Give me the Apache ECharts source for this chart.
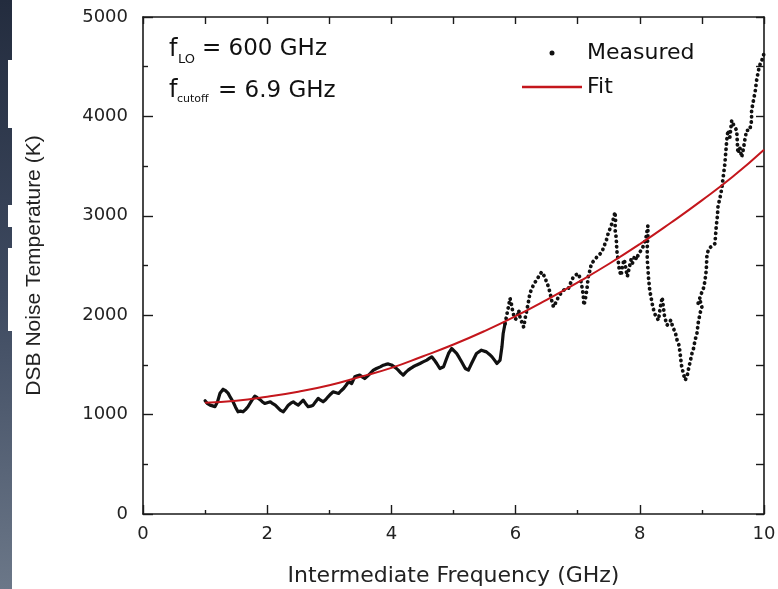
<!DOCTYPE html>
<html>
<head>
<meta charset="utf-8">
<script src="https://cdn.jsdelivr.net/npm/echarts@6/dist/echarts.min.js"></script>
<style>
html,body{margin:0;padding:0;background:#fff;}
#chart{width:778px;height:589px;}
</style>
</head>
<body>
<div id="chart"></div>
<script>
// ---- Data ----
const xTicks = [0, 2, 4, 6, 8, 10];
const yTicks = [0, 1000, 2000, 3000, 4000, 5000];

// Measured, dense low-frequency part (GHz, K)
const measDenseFreq = [1.00,1.04,1.08,1.16,1.20,1.24,1.29,1.33,1.37,1.41,1.45,1.49,1.53,1.57,1.61,1.65,1.69,1.75,1.80,1.84,1.88,1.92,1.96,2.00,2.05,2.09,2.13,2.17,2.21,2.26,2.30,2.34,2.38,2.42,2.46,2.50,2.54,2.58,2.62,2.66,2.70,2.74,2.78,2.82,2.86,2.90,2.94,2.98,3.02,3.06,3.10,3.15,3.19,3.23,3.27,3.31,3.36,3.41,3.45,3.49,3.53,3.57,3.62,3.66,3.71,3.76,3.82,3.87,3.91,3.95,4.00,4.03,4.07,4.11,4.15,4.19,4.23,4.27,4.31,4.35,4.40,4.46,4.51,4.57,4.61,4.65,4.69,4.73,4.78,4.84,4.88,4.92,4.97,5.01,5.05,5.09,5.13,5.19,5.24,5.29,5.33,5.37,5.45,5.53,5.58,5.62,5.66,5.70,5.75,5.78,5.80,5.83];
const measDenseTemp = [1140,1110,1095,1080,1130,1214,1255,1240,1216,1170,1129,1075,1028,1035,1028,1050,1079,1140,1186,1170,1153,1130,1112,1120,1129,1110,1095,1070,1045,1028,1060,1095,1115,1129,1110,1095,1120,1146,1110,1079,1085,1095,1130,1163,1145,1129,1150,1179,1205,1229,1222,1213,1240,1263,1295,1330,1313,1380,1390,1397,1380,1363,1390,1414,1447,1464,1480,1497,1505,1510,1500,1490,1470,1447,1420,1397,1425,1447,1465,1481,1497,1514,1530,1548,1565,1581,1550,1514,1464,1481,1550,1615,1665,1640,1615,1575,1531,1464,1447,1514,1565,1615,1648,1631,1605,1581,1548,1514,1548,1682,1816,1916];

// Measured, sparse high-frequency part (GHz, K)
const measSparseFreq = [5.83,5.86,5.89,5.91,5.93,5.95,5.97,6.00,6.03,6.05,6.07,6.10,6.13,6.16,6.20,6.23,6.27,6.31,6.34,6.38,6.42,6.47,6.50,6.53,6.56,6.58,6.61,6.65,6.69,6.73,6.77,6.81,6.85,6.89,6.93,6.97,7.01,7.04,7.06,7.09,7.10,7.12,7.15,7.17,7.20,7.22,7.27,7.31,7.35,7.39,7.44,7.47,7.49,7.52,7.55,7.58,7.60,7.61,7.60,7.62,7.63,7.65,7.67,7.70,7.72,7.75,7.78,7.80,7.83,7.86,7.88,7.92,7.95,7.98,8.02,8.06,8.10,8.13,8.13,8.12,8.12,8.13,8.14,8.16,8.19,8.21,8.25,8.30,8.33,8.36,8.40,8.44,8.47,8.50,8.53,8.57,8.60,8.63,8.65,8.67,8.70,8.73,8.76,8.78,8.81,8.84,8.86,8.89,8.92,8.94,8.97,9.00,8.97,8.94,8.98,9.03,9.05,9.07,9.08,9.08,9.13,9.21,9.23,9.25,9.26,9.29,9.32,9.34,9.37,9.40,9.42,9.45,9.48,9.52,9.56,9.58,9.61,9.64,9.67,9.69,9.72,9.77,9.80,9.80,9.83,9.86,9.88,9.91,9.94,9.99,10.00];
const measSparseTemp = [1916,2010,2100,2170,2120,2050,2000,1960,1990,2050,1983,1930,1880,1990,2110,2220,2280,2330,2352,2400,2435,2385,2330,2285,2210,2150,2083,2130,2184,2220,2251,2260,2268,2330,2385,2405,2419,2370,2318,2200,2100,2150,2270,2385,2460,2519,2555,2586,2610,2636,2720,2770,2821,2870,2921,2980,3038,2960,2870,2780,2650,2560,2450,2400,2500,2560,2450,2390,2480,2560,2520,2600,2560,2620,2650,2700,2780,2900,2800,2680,2560,2480,2380,2250,2150,2080,2000,1950,2080,2180,1980,1900,1880,1950,1880,1830,1750,1700,1615,1500,1415,1347,1380,1447,1530,1615,1650,1750,1816,1920,2020,2080,2150,2120,2200,2280,2350,2450,2580,2620,2680,2720,2885,3000,3100,3175,3275,3290,3525,3760,3860,3790,3960,3900,3860,3630,3690,3590,3680,3760,3860,3860,3960,4060,4160,4260,4360,4460,4530,4600,4650];

// Fit curve (GHz, K)
const fitFreq = [1.0,1.5,2.0,2.5,3.0,3.5,4.0,4.5,5.0,5.5,6.0,6.5,7.0,7.5,8.0,8.5,9.0,9.5,10.0];
const fitTemp = [1120,1140,1180,1230,1295,1380,1470,1585,1705,1840,1990,2155,2330,2515,2715,2930,3155,3395,3665];

const zip = (a, b) => a.map((v, i) => [v, b[i]]);

const FONT = '"DejaVu Sans", "Liberation Sans", Arial, sans-serif';
const AX = '#1a1a1a';
const RED = '#c4161c';

const chart = echarts.init(document.getElementById('chart'), null, {renderer: 'canvas'});

const option = {
  backgroundColor: '#ffffff',
  animation: false,
  grid: {left: 143, right: 14, top: 17, bottom: 75, outerBoundsMode: 'none'},
  legend: {
    orient: 'vertical',
    left: 522,
    top: 40,
    itemWidth: 60,
    itemHeight: 5,
    itemGap: 8,
    padding: 0,
    symbolKeepAspect: true,
    textStyle: {fontFamily: FONT, fontSize: 22, color: '#111', lineHeight: 26},
    data: [
      {name: 'Measured', icon: 'circle'},
      {name: 'Fit', icon: 'path://M0 0H60V2.5H0Z', itemStyle: {color: RED}}
    ]
  },
  xAxis: [
    {
      type: 'value', min: 0, max: 10, interval: 2,
      name: 'Intermediate Frequency (GHz)', nameLocation: 'middle', nameGap: 51,
      nameTextStyle: {fontFamily: FONT, fontSize: 22, color: '#222'},
      axisLine: {show: true, onZero: false, lineStyle: {color: AX, width: 1.6}},
      axisTick: {show: true, inside: true, length: 9, lineStyle: {color: AX, width: 1.4}},
      minorTick: {show: true, splitNumber: 2, length: 4, lineStyle: {color: AX, width: 1.4}},
      axisLabel: {margin: 11, fontFamily: FONT, fontSize: 18, color: '#222',
        formatter: v => (xTicks.indexOf(v) >= 0 ? String(v) : '')},
      splitLine: {show: false}
    },
    {
      type: 'value', min: 0, max: 10, interval: 1, position: 'top',
      axisLine: {show: true, onZero: false, lineStyle: {color: AX, width: 1.6}},
      axisTick: {show: true, inside: true, length: 7, lineStyle: {color: AX, width: 1.4}},
      axisLabel: {show: false},
      splitLine: {show: false}
    }
  ],
  yAxis: [
    {
      type: 'value', min: 0, max: 5000, interval: 1000,
      name: 'DSB Noise Temperature (K)', nameLocation: 'middle', nameGap: 98,
      nameTextStyle: {fontFamily: '"Liberation Sans", Arial, sans-serif', fontSize: 21, color: '#222'},
      axisLine: {show: true, onZero: false, lineStyle: {color: AX, width: 1.6}},
      axisTick: {show: true, inside: true, length: 10, lineStyle: {color: AX, width: 1.4}},
      minorTick: {show: true, splitNumber: 2, length: 5, lineStyle: {color: AX, width: 1.4}},
      axisLabel: {margin: 15, fontFamily: FONT, fontSize: 18, color: '#222',
        formatter: v => (yTicks.indexOf(v) >= 0 ? String(v) : '')},
      splitLine: {show: false}
    },
    {
      type: 'value', min: 0, max: 5000, interval: 500, position: 'right',
      axisLine: {show: true, onZero: false, lineStyle: {color: AX, width: 1.6}},
      axisTick: {show: true, inside: true, length: 8, lineStyle: {color: AX, width: 1.4}},
      axisLabel: {show: false},
      splitLine: {show: false}
    }
  ],
  series: [
    {
      name: 'Measured', type: 'line', xAxisIndex: 0, yAxisIndex: 0,
      data: zip(measDenseFreq, measDenseTemp),
      showSymbol: false, symbol: 'circle', symbolSize: 5,
      itemStyle: {color: '#111'},
      lineStyle: {color: '#111', width: 3.2, join: 'round', cap: 'round'},
      z: 3
    },
    {
      name: 'Measured', type: 'line', xAxisIndex: 0, yAxisIndex: 0,
      data: zip(measSparseFreq, measSparseTemp),
      showSymbol: false, symbol: 'none',
      itemStyle: {color: '#111'},
      lineStyle: {color: '#111', width: 3.8, type: [0.1, 5.2], cap: 'round', join: 'round'},
      z: 3
    },
    {
      name: 'Fit', type: 'line', xAxisIndex: 0, yAxisIndex: 0,
      data: zip(fitFreq, fitTemp),
      smooth: true, showSymbol: false, symbol: 'none',
      itemStyle: {color: RED},
      lineStyle: {color: RED, width: 2},
      z: 4
    }
  ],
  graphic: [
    // dark strip at the left edge of the scan
    {type: 'rect', left: 0, top: 0, z: -10, silent: true,
      shape: {width: 12, height: 589},
      style: {fill: new echarts.graphic.LinearGradient(0, 0, 0, 1, [
        {offset: 0, color: '#232c3e'}, {offset: 0.5, color: '#3e4a60'}, {offset: 1, color: '#6b7788'}])}},
    {type: 'rect', left: 8, top: 60, z: -9, silent: true, shape: {width: 4, height: 68}, style: {fill: '#ffffff'}},
    {type: 'rect', left: 8, top: 205, z: -9, silent: true, shape: {width: 4, height: 22}, style: {fill: '#ffffff'}},
    {type: 'rect', left: 8, top: 248, z: -9, silent: true, shape: {width: 4, height: 83}, style: {fill: '#ffffff'}},
    // annotations
    {type: 'text', left: 169, top: 38, style: {text: 'f', font: '24px ' + FONT, fill: '#111'}},
    {type: 'text', left: 178, top: 53, style: {text: 'LO', font: '13px ' + FONT, fill: '#111'}},
    {type: 'text', left: 202, top: 38, style: {text: '= 600 GHz', font: '23px ' + FONT, fill: '#111'}},
    {type: 'text', left: 169, top: 79, style: {text: 'f', font: '24px ' + FONT, fill: '#111'}},
    {type: 'text', left: 177, top: 94, style: {text: 'cutoff', font: '11px ' + FONT, fill: '#111'}},
    {type: 'text', left: 218, top: 80, style: {text: '= 6.9 GHz', font: '23px ' + FONT, fill: '#111'}}
  ]
};

chart.setOption(option);
</script>
</body>
</html>
